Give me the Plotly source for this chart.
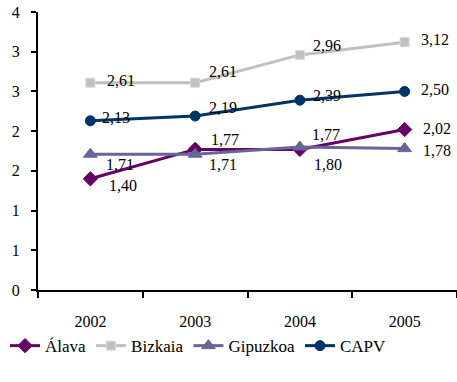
import plotly.graph_objects as go

years = ["2002", "2003", "2004", "2005"]
alava = [1.40, 1.77, 1.77, 2.02]
bizkaia = [2.61, 2.61, 2.96, 3.12]
gipuzkoa = [1.71, 1.71, 1.80, 1.78]
capv = [2.13, 2.19, 2.39, 2.50]
y_tickvals = [0, 0.5, 1, 1.5, 2, 2.5, 3, 3.5]
y_ticktext = ["0", "1", "1", "2", "2", "3", "3", "4"]

FONT = "'Liberation Serif', 'Times New Roman', serif"

series = [
    ("Álava", alava, "#660066", "diamond", 11, [(33, -7), (30, 10), (26, 15), (32, 1)]),
    ("Bizkaia", bizkaia, "#c0c0c0", "square", 9, [(31, 2), (28, 11), (27, 9), (30, 3)]),
    ("Gipuzkoa", gipuzkoa, "#666699", "triangle-up", 12, [(30, -10), (28, -10), (28, -17), (32, -2)]),
    ("CAPV", capv, "#003366", "circle", 10, [(26, 3), (28, 9), (27, 5), (30, 2)]),
]

fig = go.Figure()
annotations = []
for name, vals, color, sym, size, offs in series:
    fig.add_trace(go.Scatter(
        x=years, y=vals, name=name, mode="lines+markers",
        line=dict(color=color, width=3),
        marker=dict(symbol=sym, size=size, color=color,
                    line=dict(color="#d8d8d8" if sym == "square" else color, width=1)),
    ))
    for i, (yv, (dx, dy)) in enumerate(zip(vals, offs)):
        annotations.append(dict(
            x=i, y=yv, xref="x", yref="y", text=f"{yv:.2f}".replace(".", ","),
            showarrow=False, xshift=dx, yshift=dy,
            font=dict(family=FONT, size=16, color="black"),
        ))

fig.update_layout(
    width=457, height=382,
    margin=dict(l=38, r=0, t=12, b=92, autoexpand=False),
    paper_bgcolor="white", plot_bgcolor="white",
    font=dict(family=FONT, size=16, color="black"),
    showlegend=True,
    legend=dict(orientation="h", xref="container", yref="container",
                x=0.011, xanchor="left", y=0.094, yanchor="middle",
                font=dict(family=FONT, size=17, color="black"),
                itemwidth=30, tracegroupgap=0),
    annotations=annotations,
    xaxis=dict(
        type="category", range=[-0.5, 3.5],
        showline=True, linecolor="black", linewidth=2,
        ticks="outside", tickson="boundaries", ticklen=6, tickwidth=1.5, tickcolor="black",
        showgrid=False, zeroline=False, ticklabelstandoff=16,
        tickfont=dict(family=FONT, size=16, color="black"),
    ),
    yaxis=dict(
        range=[0, 3.5], tickvals=y_tickvals, ticktext=y_ticktext,
        showline=True, linecolor="black", linewidth=2,
        ticks="outside", ticklen=5, tickwidth=1.5, tickcolor="black",
        showgrid=False, zeroline=False, ticklabelstandoff=8,
        ticklabeloverflow="allow",
        tickfont=dict(family=FONT, size=16, color="black"),
    ),
)

fig.write_html("out.html", config={"displayModeBar": False},
               post_script="document.body.style.margin='0';")
